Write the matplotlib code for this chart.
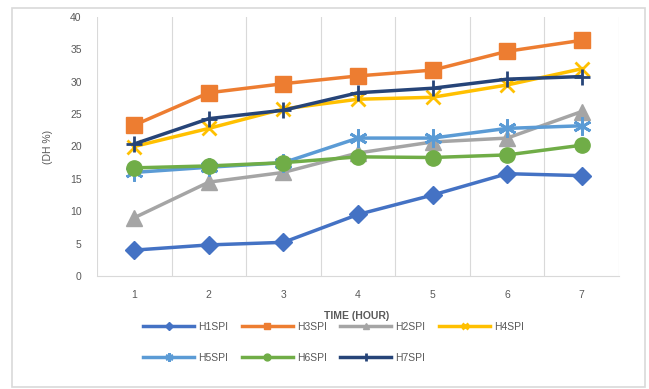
import numpy as np
import matplotlib.pyplot as plt
from matplotlib.patches import Rectangle

plt.rcParams['font.family'] = ['Liberation Sans', 'DejaVu Sans']

hours = [1, 2, 3, 4, 5, 6, 7]

h1spi = [4.0, 4.8, 5.2, 9.5, 12.5, 15.8, 15.5]
h3spi = [23.3, 28.3, 29.7, 30.9, 31.8, 34.7, 36.4]
h2spi = [9.0, 14.5, 16.0, 19.0, 20.7, 21.3, 25.4]
h4spi = [20.0, 22.8, 25.8, 27.3, 27.6, 29.5, 32.0]
h5spi = [16.0, 16.8, 17.5, 21.3, 21.3, 22.8, 23.2]
h6spi = [16.7, 17.0, 17.5, 18.4, 18.3, 18.7, 20.2]
h7spi = [20.4, 24.3, 25.6, 28.3, 29.0, 30.4, 30.8]

series = [
    ('H1SPI', h1spi, '#4472C4', 'D', 9),
    ('H3SPI', h3spi, '#ED7D31', 's', 11),
    ('H2SPI', h2spi, '#A5A5A5', '^', 11),
    ('H4SPI', h4spi, '#FFC000', 'x', 10),
    ('H5SPI', h5spi, '#5B9BD5', (6, 2, 0), 13),
    ('H6SPI', h6spi, '#70AD47', 'o', 11),
    ('H7SPI', h7spi, '#264478', '+', 12),
]

txt = '#595959'

fig = plt.figure(figsize=(6.49, 3.89), dpi=100)
fig.patches.append(Rectangle((12 / 649, 0.005), 633 / 649, 1 - 8 / 389 - 0.005,
                             transform=fig.transFigure, fill=False,
                             edgecolor='#D9D9D9', lw=1.2))

ax = fig.add_axes([97 / 649, 1 - 276 / 389, 522 / 649, 259 / 389])

lines = {}
for name, vals, col, mk, ms in series:
    ln, = ax.plot(hours, vals, color=col, lw=2.5, marker=mk, ms=ms,
                  mew=2 if mk in ('x', '+', (6, 2, 0)) else 1,
                  mec=col, mfc=col, label=name, zorder=3)
    lines[name] = ln

ax.set_xlim(0.5, 7.5)
ax.set_ylim(0, 40)
ax.set_yticks(np.arange(0, 41, 5))
ax.set_xticks(hours)
ax.set_xticks(np.arange(0.5, 7.6, 1), minor=True)
ax.grid(True, which='minor', axis='x', color='#D9D9D9', lw=0.8)
ax.tick_params(which='both', length=0)
ax.tick_params(axis='y', labelsize=7.5, labelcolor=txt, pad=11)
ax.tick_params(axis='x', labelsize=7.5, labelcolor=txt, pad=10)
for s in ('top', 'right', 'left'):
    ax.spines[s].set_visible(False)
ax.spines['bottom'].set_color('#D9D9D9')

ax.set_ylabel('(DH %)', fontsize=7.5, color=txt, labelpad=12)
fig.text(357 / 649, 1 - 316 / 389, 'TIME (HOUR)', fontsize=7.5, fontweight='bold',
         color=txt, ha='center', va='center')

# legend filled column-wise, so interleave the two rows
order = ['H1SPI', 'H5SPI', 'H3SPI', 'H6SPI', 'H2SPI', 'H7SPI', 'H4SPI']
leg = fig.legend([lines[n] for n in order], order, ncol=4,
                 loc='upper left', bbox_to_anchor=(143 / 649, 1 - 322 / 389),
                 frameon=False, fontsize=7.5, handlelength=4.9, handletextpad=0.4,
                 columnspacing=1.3, labelspacing=2.0, markerscale=0.45,
                 borderaxespad=0, borderpad=0)
for t in leg.get_texts():
    t.set_color(txt)

fig.savefig('out.png', dpi=100)
